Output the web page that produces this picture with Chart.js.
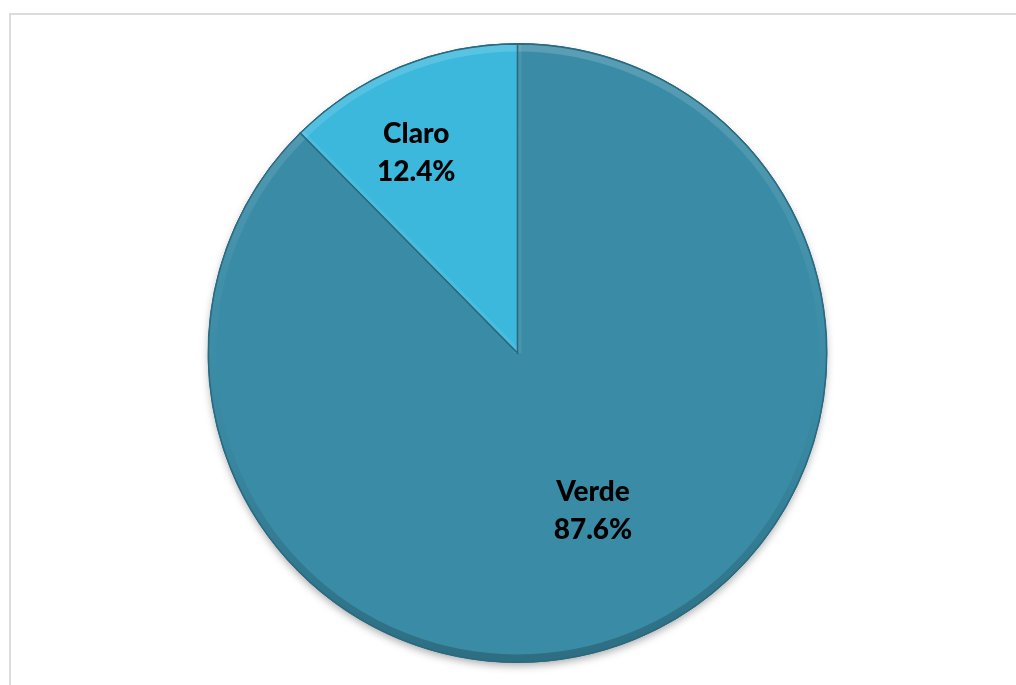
<!DOCTYPE html>
<html>
<head>
<meta charset="utf-8">
<title>Verde / Claro</title>
<script src="https://cdn.jsdelivr.net/npm/chart.js@4.4.1/dist/chart.umd.min.js"></script>
<style>
  html, body { margin: 0; padding: 0; background: #ffffff; }
  #wrap { width: 1016px; height: 685px; }
</style>
</head>
<body>
<div id="wrap"><canvas id="pie" width="1016" height="685"></canvas></div>
<script>
// Share of each category (percent)
const categories = ['Verde', 'Claro'];
const shares = [87.6, 12.4];

const sliceColors = ['#3a8ca6', '#3bb8dc'];
const edgeColor = '#2a6a80';

// Light frame around the plot (only top and left are inside the window)
const framePlugin = {
  id: 'frame',
  beforeDraw(chart) {
    const ctx = chart.ctx;
    ctx.save();
    ctx.strokeStyle = '#dcdcdc';
    ctx.lineWidth = 2;
    ctx.strokeRect(10, 14, 1200, 1000);
    ctx.restore();
  }
};

// Soft drop shadow under the whole pie
const shadowPlugin = {
  id: 'pieShadow',
  beforeDatasetsDraw(chart) {
    const arcs = chart.getDatasetMeta(0).data;
    if (!arcs.length) return;
    const a = arcs[0];
    const ctx = chart.ctx;
    ctx.save();
    ctx.shadowColor = 'rgba(0,0,0,0.35)';
    ctx.shadowBlur = 9;
    ctx.shadowOffsetY = 4;
    ctx.fillStyle = sliceColors[0];
    ctx.beginPath();
    ctx.arc(a.x, a.y, a.outerRadius - 1, 0, Math.PI * 2);
    ctx.fill();
    ctx.restore();
  }
};

// Bevel: a faint light rim at the top fading to a darker rim at the bottom
const bevelPlugin = {
  id: 'bevel',
  afterDatasetsDraw(chart) {
    const arcs = chart.getDatasetMeta(0).data;
    const ctx = chart.ctx;
    arcs.forEach((a) => {
      const r = a.outerRadius;
      ctx.save();
      ctx.beginPath();
      ctx.moveTo(a.x, a.y);
      ctx.arc(a.x, a.y, r - 0.5, a.startAngle, a.endAngle);
      ctx.closePath();
      ctx.clip();
      const g = ctx.createLinearGradient(0, a.y - r, 0, a.y + r);
      g.addColorStop(0, 'rgba(255,255,255,0.16)');
      g.addColorStop(0.4, 'rgba(255,255,255,0.03)');
      g.addColorStop(0.65, 'rgba(0,0,0,0.03)');
      g.addColorStop(1, 'rgba(0,0,0,0.22)');
      ctx.strokeStyle = g;
      ctx.lineWidth = 8;
      ctx.beginPath();
      ctx.arc(a.x, a.y, r - 4, a.startAngle, a.endAngle);
      ctx.stroke();
      // faint highlight along the leading radial edge
      ctx.strokeStyle = 'rgba(255,255,255,0.08)';
      ctx.lineWidth = 8;
      ctx.beginPath();
      ctx.moveTo(a.x, a.y);
      ctx.lineTo(a.x + Math.cos(a.startAngle) * r, a.y + Math.sin(a.startAngle) * r);
      ctx.stroke();
      ctx.restore();
    });
    // outline
    arcs.forEach((a) => {
      ctx.save();
      ctx.strokeStyle = edgeColor;
      ctx.lineWidth = 1.3;
      ctx.beginPath();
      ctx.moveTo(a.x, a.y);
      ctx.arc(a.x, a.y, a.outerRadius - 0.5, a.startAngle, a.endAngle);
      ctx.closePath();
      ctx.stroke();
      ctx.restore();
    });
  }
};

// Category name and percentage inside each slice
const sliceLabelPlugin = {
  id: 'sliceLabels',
  afterDraw(chart, args, opts) {
    const meta = chart.getDatasetMeta(0);
    const ctx = chart.ctx;
    ctx.save();
    ctx.font = '900 28px Lato, "Liberation Sans", sans-serif';
    ctx.fillStyle = '#000000';
    ctx.textAlign = 'center';
    ctx.textBaseline = 'middle';
    meta.data.forEach((a, i) => {
      const mid = (a.startAngle + a.endAngle) / 2 + opts.shift[i] * Math.PI / 180;
      const rr = a.outerRadius * opts.radius[i];
      const cx = a.x + Math.cos(mid) * rr;
      const cy = a.y + Math.sin(mid) * rr;
      const value = chart.data.datasets[0].data[i];
      ctx.fillText(chart.data.labels[i], cx, cy - 19);
      ctx.fillText(value.toFixed(1) + '%', cx, cy + 19);
    });
    ctx.restore();
  }
};

new Chart(document.getElementById('pie'), {
  type: 'pie',
  data: {
    labels: categories,
    datasets: [{
      data: shares,
      backgroundColor: sliceColors,
      borderColor: edgeColor,
      borderWidth: 1
    }]
  },
  options: {
    responsive: false,
    animation: false,
    layout: { padding: { top: 43, bottom: 22, left: 19, right: 0 } },
    plugins: {
      legend: { display: false },
      tooltip: { enabled: false },
      sliceLabels: { radius: [0.566, 0.725], shift: [-3.2, -4.5] }
    }
  },
  plugins: [framePlugin, shadowPlugin, bevelPlugin, sliceLabelPlugin]
});
</script>
</body>
</html>
